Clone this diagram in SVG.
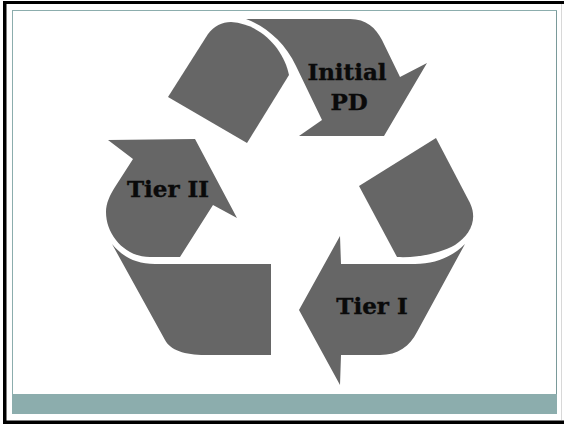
<svg xmlns="http://www.w3.org/2000/svg" width="564" height="424" viewBox="0 0 564 424">
<style>
.s{fill:#666666}
.t{font-family:"DejaVu Serif","Liberation Serif",serif;font-weight:bold;font-size:23px;fill:#0a0a0a;stroke:#0a0a0a;stroke-width:0.4;text-anchor:middle}
</style>
<rect width="564" height="424" fill="#ffffff"/>
<rect x="3" y="1" width="561" height="3" fill="#000000"/>
<rect x="3" y="1" width="3.5" height="423" fill="#000000"/>
<rect x="3" y="420.5" width="561" height="3.5" fill="#000000"/>
<rect x="561" y="4" width="1" height="416" fill="#d8d8d8"/>
<rect x="12.5" y="10.5" width="544" height="403" fill="#ffffff" stroke="#8cadad" stroke-width="1"/>
<rect x="556" y="11" width="1" height="383" fill="#7a9a9a"/>
<rect x="13" y="394" width="544" height="19.5" fill="#8cadad"/>
<g id="node-initial-pd">
<path class="s" d="M246 19H350C366 19 376 28 382 40L400 77L427 63L384 136H299L322 120L296 66C285 42 265 26 246 19Z"/>
<text class="t" x="347" y="80">Initial</text>
<text class="t" x="349" y="110">PD</text>
</g>
<g id="node-arrow-top">
<path class="s" d="M168 97L208 34C214 26 222 22 231 22C262 24 284 50 289 75L247 143Z"/>
</g>
<g id="node-tier-ii">
<path class="s" d="M108 140L195 139L237 218L213 205L180 257H150C125 257 106 235 106 212C106 203 110 195 115 187L133 159Z"/>
<text class="t" x="168" y="197">Tier II</text>
</g>
<g id="node-block-left">
<path class="s" d="M112 244C122 256 135 264 155 264H271V355H205C185 355 170 350 165 340Z"/>
</g>
<g id="node-tier-i">
<path class="s" d="M340 236L341 264H415C435 264 452 257 465 244L417 332C410 346 398 355 380 355H341L340 385L299 310Z"/>
<text class="t" x="372" y="314">Tier I</text>
</g>
<g id="node-block-right">
<path class="s" d="M359 186L436 138L470 203C478 220 470 235 455 245C440 253 420 258 397 257Z"/>
</g>
</svg>
